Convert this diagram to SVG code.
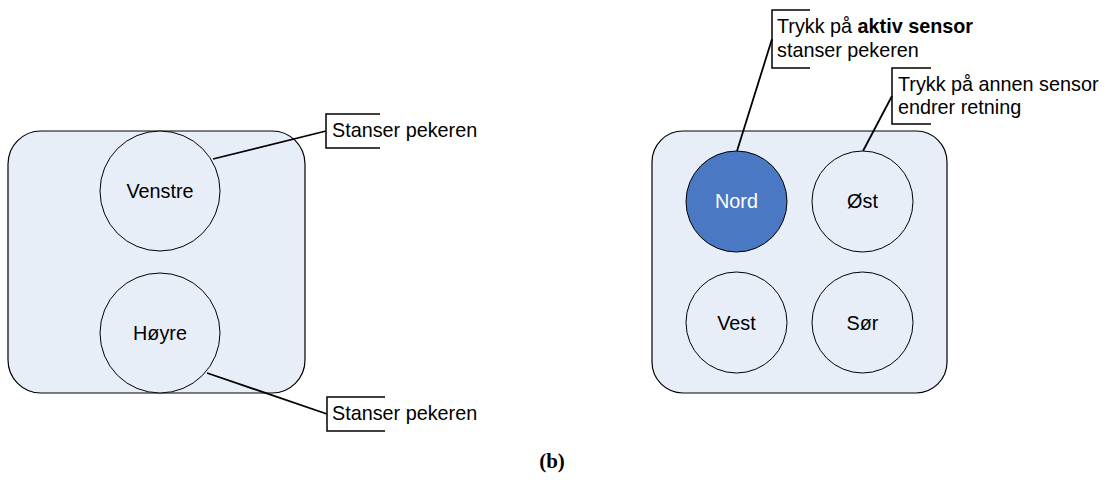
<svg xmlns="http://www.w3.org/2000/svg" width="1112" height="480" viewBox="0 0 1112 480">
<style>
.panel{fill:#E8EEF8;stroke:#000;stroke-width:1.2}
.sensor{fill:#E8EEF8;stroke:#000;stroke-width:1}
.active{fill:#4A78C2;stroke:#000;stroke-width:1}
.lbl{font-family:"Liberation Sans",Arial,sans-serif;font-size:19.8px;fill:#000;text-anchor:middle}
.lblw{fill:#fff}
.note{font-family:"Liberation Sans",Arial,sans-serif;font-size:19.8px;fill:#000}
.br{fill:none;stroke:#000;stroke-width:1.5}
.con{fill:none;stroke:#000;stroke-width:1.8}
.cap{font-family:"Liberation Serif","Times New Roman",serif;font-size:21px;font-weight:bold;text-anchor:middle}
</style>
<rect id="panel-a" class="panel" x="8" y="131" width="297" height="262" rx="33" ry="33"/>
<rect id="panel-b" class="panel" x="652" y="131" width="295" height="262" rx="31" ry="31"/>
<g id="venstre"><circle class="sensor" cx="160" cy="191" r="60"/><text class="lbl" x="160" y="198">Venstre</text></g>
<g id="hoyre"><circle class="sensor" cx="160" cy="333" r="60"/><text class="lbl" x="160" y="340">Høyre</text></g>
<g id="nord"><circle class="active" cx="736.5" cy="201.5" r="50.5"/><text class="lbl lblw" x="736.5" y="208">Nord</text></g>
<g id="ost"><circle class="sensor" cx="862.5" cy="201.5" r="50.5"/><text class="lbl" x="862.5" y="208">Øst</text></g>
<g id="vest"><circle class="sensor" cx="736.5" cy="322.5" r="50.5"/><text class="lbl" x="736.5" y="330">Vest</text></g>
<g id="sor"><circle class="sensor" cx="862.5" cy="322.5" r="50.5"/><text class="lbl" x="862.5" y="330">Sør</text></g>
<g id="note-venstre"><path class="br" d="M380,114 H326 V148 H380"/><text class="note" x="332" y="137">Stanser pekeren</text></g>
<g id="note-hoyre"><path class="br" d="M385,397 H327 V431 H385"/><text class="note" x="332" y="420">Stanser pekeren</text></g>
<g id="note-nord"><path class="br" d="M810,10 H772 V68 H810"/><text class="note" x="777" y="33">Trykk på <tspan font-weight="bold">aktiv sensor</tspan></text><text class="note" x="777" y="57">stanser pekeren</text></g>
<g id="note-ost"><path class="br" d="M931,68 H892 V124 H931"/><text class="note" x="898" y="91">Trykk på annen sensor</text><text class="note" x="898" y="114">endrer retning</text></g>
<g id="connectors">
<line class="con" x1="213" y1="159" x2="326" y2="131"/>
<line class="con" x1="207" y1="373" x2="327" y2="414"/>
<line class="con" x1="737" y1="151" x2="772" y2="39"/>
<line class="con" x1="863" y1="151" x2="892" y2="96"/>
</g>
<text class="cap" x="552" y="468">(b)</text>
</svg>
